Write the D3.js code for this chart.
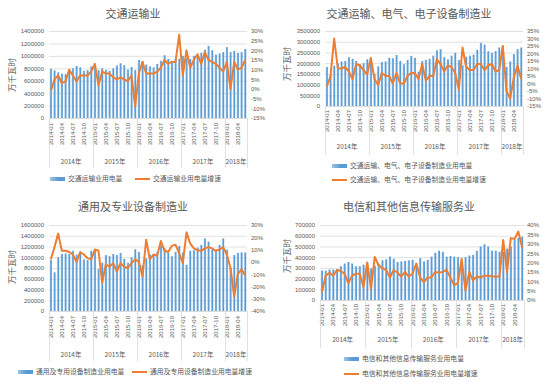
<!DOCTYPE html>
<meta charset="utf-8">
<title>分行业用电量</title>
<style>
  body { margin: 0; background: #fff; }
  svg { display: block; font-family: "Noto Sans CJK SC", "Noto Sans", sans-serif; }
  .grid line { stroke: #d9d9d9; stroke-width: 0.8px; }
  .sep { stroke: #d9d9d9; stroke-width: 0.8px; }
  .tick text { fill: #595959; }
  .title { fill: #595959; font-size: 11px; text-anchor: middle; }
  .ytitle { fill: #595959; font-size: 8.5px; text-anchor: middle; }
  .year { fill: #595959; font-size: 6.5px; text-anchor: middle; }
  .legend text { fill: #595959; font-size: 6.8px; }
  .growth { fill: none; stroke: #ed7d31; stroke-width: 2px; stroke-linejoin: round; }
</style>
<body>
<svg width="554" height="386"></svg>
<script src="https://d3js.org/d3.v7.min.js"></script>
<script>
  // categories
  var months = [
    "2014-01","2014-02","2014-03","2014-04","2014-05","2014-06","2014-07","2014-08","2014-09","2014-10","2014-11","2014-12",
    "2015-01","2015-02","2015-03","2015-04","2015-05","2015-06","2015-07","2015-08","2015-09","2015-10","2015-11","2015-12",
    "2016-01","2016-02","2016-03","2016-04","2016-05","2016-06","2016-07","2016-08","2016-09","2016-10","2016-11","2016-12",
    "2017-01","2017-02","2017-03","2017-04","2017-05","2017-06","2017-07","2017-08","2017-09","2017-10","2017-11","2017-12",
    "2018-01","2018-02","2018-03","2018-04","2018-05","2018-06"];
  var years = ["2014年", "2015年", "2016年", "2017年", "2018年"];
  var yearStart = ["2014-01", "2015-01", "2016-01", "2017-01", "2018-01"];

  // 交通运输业
  var transportPower = [
    790000,765000,735000,715000,705000,770000,800000,840000,815000,760000,770000,830000,
    850000,770000,800000,775000,760000,800000,845000,880000,850000,780000,820000,770000,
    935000,920000,860000,830000,815000,870000,920000,1010000,950000,920000,950000,955000,
    1000000,960000,950000,1000000,985000,1050000,1100000,1160000,1090000,1020000,1040000,1060000,
    1140000,1060000,1080000,1050000,1060000,1110000];
  var transportGrowth = [
    -1,5,7,3,4,10,7,4,7,7,7,9,
    13,2,9,8,8,6,5,6,5,4,7,-9,
    8,14,8,8,8,9,11,15,13,14,14,28,
    7,20,11,15,18,13,19,15,14,13,11,9,
    14,0,14,10,11,15];

  // 交通运输、电气、电子设备制造业
  var elecPower = [
    1820000,1480000,1880000,1980000,2080000,2100000,2280000,2200000,2100000,1960000,2000000,2180000,
    2250000,1500000,1850000,2050000,2080000,2250000,2230000,2380000,2100000,1950000,2150000,2340000,
    2250000,1600000,2100000,2150000,2200000,2350000,2600000,2650000,2280000,2180000,2350000,2480000,
    2150000,1900000,2300000,2350000,2400000,2620000,2950000,2870000,2550000,2480000,2560000,2730000,
    2800000,1820000,2080000,2420000,2650000,2730000];
  var elecGrowth = [
    -2,5,30,10,10,11,8,3,13,12,9,6,
    17,3,-1,7,5,5,0,7,0,0,5,7,
    7,3,13,2,5,5,16,13,8,12,11,7,
    -4,24,11,9,9,13,13,9,12,13,8,9,
    25,-5,-10,4,12,3];

  // 通用及专业设备制造业
  var machPower = [
    950000,720000,1000000,1060000,1070000,1060000,1120000,1050000,1080000,960000,950000,1120000,
    1120000,780000,900000,1040000,1020000,1060000,1040000,1080000,970000,900000,1000000,1150000,
    1100000,850000,980000,1050000,1060000,1100000,1220000,1170000,1080000,1020000,1100000,1210000,
    1090000,860000,1120000,1130000,1180000,1230000,1350000,1290000,1140000,1140000,1230000,1350000,
    1140000,800000,1040000,1080000,1090000,1090000];
  var machGrowth = [
    2,12,23,9,9,8,6,0,8,6,3,2,
    10,9,-17,-2,-4,-1,-8,-1,-4,-5,-1,2,
    0,-12,18,2,6,5,17,9,8,13,14,7,
    -1,24,15,11,9.5,9,11,12,11,9,10,12,
    6,-5,-28,-10,-6,-11];

  // 电信和其他信息传输服务业
  var telecomPower = [
    275000,275000,285000,285000,290000,315000,340000,355000,340000,315000,315000,330000,
    345000,295000,320000,340000,370000,380000,405000,385000,355000,360000,365000,370000,
    375000,340000,390000,360000,375000,405000,440000,460000,450000,405000,410000,405000,
    400000,355000,400000,415000,420000,460000,500000,520000,500000,460000,460000,450000,
    450000,480000,500000,560000,580000,590000];
  var telecomGrowth = [
    4,13,14.5,13,16,15.5,14,9,13,14,14,7,
    20,6,23,18.5,17,16,12,16,14.5,12.5,15,12.5,
    14,19.5,12,9.5,12,12,15,14.5,15,16,12,8,
    9,22,5,15,10.5,12.5,12,13,13,12.5,12.5,12.5,
    32,15,33,32.5,36.5,28];

  // tick labels
  var ticks1L = [0,200000,400000,600000,800000,1000000,1200000,1400000];
  var ticks1R = [-15,-10,-5,0,5,10,15,20,25,30];
  var ticks2L = [0,500000,1000000,1500000,2000000,2500000,3000000,3500000];
  var ticks2R = [-15,-10,-5,0,5,10,15,20,25,30,35];
  var ticks3L = [0,200000,400000,600000,800000,1000000,1200000,1400000,1600000];
  var ticks3R = [-40,-30,-20,-10,0,10,20,30];
  var ticks4L = [0,100000,200000,300000,400000,500000,600000,700000];
  var ticks4R = [0,5,10,15,20,25,30,35,40];

  const svg = d3.select('svg');

  // bar gradient (lighter left edge like the Excel bars)
  var grad = svg.append('defs').append('linearGradient')
    .attr('id', 'barfill').attr('x1', 0).attr('x2', 1).attr('y1', 0).attr('y2', 0);
  grad.append('stop').attr('offset', '0%').attr('stop-color', '#9dc3e6');
  grad.append('stop').attr('offset', '55%').attr('stop-color', '#5b9bd5');
  grad.append('stop').attr('offset', '100%').attr('stop-color', '#5b9bd5');

  var panels = [
    { title: '交通运输业', tx: 133, ty: 18, x0: 49, x1: 247, yTop: 31, yBot: 118,
      lTicks: ticks1L, rTicks: ticks1R, lx: 44, rx: 251, ytx: 12, yty: 75,
      catGap: 5, yearY: 162, sepBot: 168, power: transportPower, growth: transportGrowth,
      legend: [{ kind: 'bar', x: 50, y: 179, text: '交通运输业用电量' },
               { kind: 'line', x: 135, y: 179, text: '交通运输业用电量增速' }] },
    { title: '交通运输、电气、电子设备制造业', tx: 409, ty: 18, x0: 325, x1: 523, yTop: 31, yBot: 106,
      lTicks: ticks2L, rTicks: ticks2R, lx: 320, rx: 527, ytx: 287, yty: 64,
      catGap: 4, yearY: 147, sepBot: 155, power: elecPower, growth: elecGrowth,
      legend: [{ kind: 'bar', x: 332, y: 166, text: '交通运输、电气、电子设备制造业用电量' },
               { kind: 'line', x: 332, y: 180, text: '交通运输、电气、电子设备制造业用电量增速' }] },
    { title: '通用及专业设备制造业', tx: 133, ty: 211, x0: 49, x1: 247, yTop: 225, yBot: 311,
      lTicks: ticks3L, rTicks: ticks3R, lx: 44, rx: 251, ytx: 12, yty: 267,
      catGap: 5, yearY: 355, sepBot: 361, power: machPower, growth: machGrowth,
      legend: [{ kind: 'bar', x: 18, y: 372, text: '通用及专用设备制造业用电量' },
               { kind: 'line', x: 132, y: 372, text: '通用及专用设备制造业用电量增速' }] },
    { title: '电信和其他信息传输服务业', tx: 409, ty: 211, x0: 320, x1: 524, yTop: 225, yBot: 300,
      lTicks: ticks4L, rTicks: ticks4R, lx: 315, rx: 527, ytx: 287, yty: 256,
      catGap: 4, yearY: 340, sepBot: 348, power: telecomPower, growth: telecomGrowth,
      legend: [{ kind: 'bar', x: 344, y: 359, text: '电信和其他信息传输服务业用电量' },
               { kind: 'line', x: 344, y: 374, text: '电信和其他信息传输服务业用电量增速' }] }
  ];

  panels.forEach(drawPanel);

  function drawPanel(p) {
    var g = svg.append('g');
    var x = d3.scaleBand().domain(months).range([p.x0, p.x1]);
    var bw = x.bandwidth();
    var lMax = p.lTicks[p.lTicks.length - 1];
    var yL = d3.scaleLinear().domain([0, lMax]).range([p.yBot, p.yTop]);
    var yR = d3.scaleLinear().domain([p.rTicks[0], p.rTicks[p.rTicks.length - 1]]).range([p.yBot, p.yTop]);

    // title
    g.append('text').attr('class', 'title').attr('x', p.tx).attr('y', p.ty).text(p.title);

    // gridlines
    g.append('g').attr('class', 'grid')
      .selectAll('line').data(p.lTicks).enter().append('line')
      .attr('x1', p.x0).attr('x2', p.x1)
      .attr('y1', d => yL(d) + 0.5).attr('y2', d => yL(d) + 0.5);

    // left axis
    g.append('g').attr('transform', 'translate(' + p.lx + ',0)')
      .call(d3.axisLeft(yL).tickValues(p.lTicks).tickSize(0).tickPadding(0).tickFormat(d3.format('d')))
      .call(a => a.select('.domain').remove())
      .selectAll('text').style('font-size', '6px').style('font-family', 'inherit');

    // right axis
    g.append('g').attr('transform', 'translate(' + p.rx + ',0)')
      .call(d3.axisRight(yR).tickValues(p.rTicks).tickSize(0).tickPadding(0).tickFormat(d => d + '%'))
      .call(a => a.select('.domain').remove())
      .selectAll('text').style('font-size', '6px').style('font-family', 'inherit');

    // y axis title
    g.append('text').attr('class', 'ytitle')
      .attr('transform', 'translate(' + p.ytx + ',' + p.yty + ') rotate(-90)')
      .attr('dy', '0.35em').text('万千瓦时');

    // bars
    g.selectAll('.bar').data(months).enter().append('rect')
      .attr('class', 'bar')
      .attr('x', d => x(d) + bw * 0.22)
      .attr('width', bw * 0.56)
      .attr('y', (d, i) => yL(p.power[i]))
      .attr('height', (d, i) => p.yBot - yL(p.power[i]))
      .attr('fill', 'url(#barfill)');

    // growth line
    var line = d3.line()
      .x((d, i) => x(months[i]) + bw / 2)
      .y(d => yR(d));
    g.append('path').datum(p.growth).attr('class', 'growth').attr('d', line);

    // category axis: month labels every third month
    g.append('g').attr('transform', 'translate(0,' + p.yBot + ')')
      .call(d3.axisBottom(x).tickValues(months.filter((d, i) => i % 3 === 0)).tickSize(0))
      .call(a => a.select('.domain').remove())
      .selectAll('text')
      .attr('transform', 'rotate(-90)')
      .attr('x', -p.catGap).attr('y', 0).attr('dy', '0.35em')
      .style('text-anchor', 'end').style('font-size', '6px').style('font-family', 'inherit');

    // year group separators
    var bounds = yearStart.map(m => x(m)).concat([p.x1]);
    g.selectAll('.sep').data(bounds).enter().append('line')
      .attr('class', 'sep')
      .attr('x1', d => Math.round(d) + 0.5).attr('x2', d => Math.round(d) + 0.5)
      .attr('y1', p.yBot).attr('y2', p.sepBot);
    g.append('line').attr('class', 'sep')
      .attr('x1', p.x0).attr('x2', p.x1)
      .attr('y1', p.yBot + 0.5).attr('y2', p.yBot + 0.5);

    g.selectAll('.year').data(years).enter().append('text')
      .attr('class', 'year')
      .attr('x', (d, i) => (bounds[i] + bounds[i + 1]) / 2)
      .attr('y', p.yearY).attr('dy', '0.35em')
      .text(d => d);

    // legend
    var lg = g.append('g').attr('class', 'legend');
    p.legend.forEach(function (it) {
      if (it.kind === 'bar') {
        lg.append('rect').attr('x', it.x).attr('y', it.y - 2).attr('width', 15).attr('height', 4)
          .attr('fill', 'url(#barfill)');
      } else {
        lg.append('line').attr('x1', it.x).attr('x2', it.x + 15).attr('y1', it.y).attr('y2', it.y)
          .attr('stroke', '#ed7d31').attr('stroke-width', 2);
      }
      lg.append('text').attr('x', it.x + 18).attr('y', it.y).attr('dy', '0.35em').text(it.text);
    });
  }
</script>
</body>
